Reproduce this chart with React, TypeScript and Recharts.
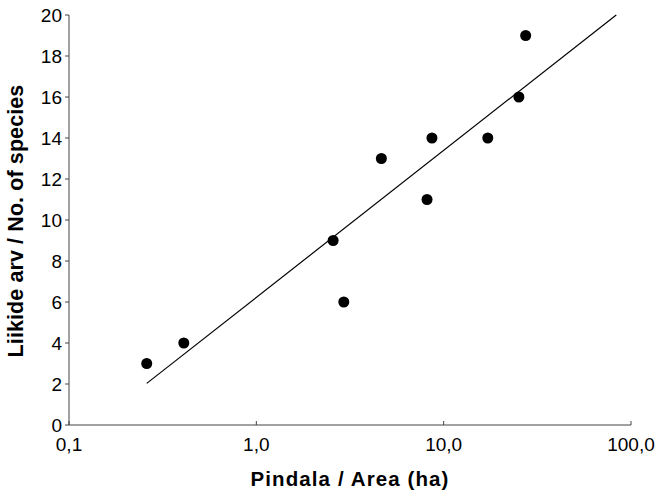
import { ComposedChart, Scatter, XAxis, YAxis, Label } from 'recharts'

// area (ha) vs number of species
const areaHa = [0.26, 0.41, 2.57, 2.93, 4.65, 8.15, 8.66, 17.2, 25.2, 27.4]
const speciesCount = [3, 4, 9, 6, 13, 11, 14, 14, 16, 19]

// fitted regression line endpoints
const fitArea = [0.26, 83.4]
const fitSpecies = [2.03, 20]

const xTicks = [0.1, 1, 10, 100]
const yTicks = [0, 2, 4, 6, 8, 10, 12, 14, 16, 18, 20]

const points = areaHa.map((x, i) => ({ x, y: speciesCount[i] }))
const fitLine = fitArea.map((x, i) => ({ x, y: fitSpecies[i] }))

const font = 'Arial, "Liberation Sans", sans-serif'
const axisColor = '#444'
const titleStyle = { fill: '#000', fontSize: 20.5, fontWeight: 'bold', fontFamily: font, letterSpacing: 1.1 }

const fmtX = (v: number) => v.toFixed(1).replace('.', ',')

const YTitle = (props: any) => {
    const vb = props.viewBox
    const cx = vb.x + vb.width - 46
    const cy = vb.y + vb.height / 2 + 1
    return (
        <text x={cx} y={cy} transform={`rotate(-90, ${cx}, ${cy})`} textAnchor="middle" style={{ ...titleStyle, fontSize: 21.5, letterSpacing: 0.1 }}>
            Liikide arv / No. of species
        </text>
    )
}

export default function App() {
    return (
        <div style={{ position: 'absolute', left: 0, top: 0, background: '#fff' }}>
            <ComposedChart width={657} height={493} margin={{ top: 15, right: 26, left: 29, bottom: 8 }}>
                <XAxis
                    type="number"
                    dataKey="x"
                    scale="log"
                    domain={[0.1, 100]}
                    ticks={xTicks}
                    tickFormatter={fmtX}
                    allowDataOverflow
                    height={60}
                    stroke={axisColor}
                    tickSize={-4}
                    tickMargin={17}
                    tick={{ fill: '#000', fontSize: 19, fontFamily: font }}
                >
                    <Label value="Pindala / Area (ha)" position="insideBottom" offset={-1} style={titleStyle} />
                </XAxis>
                <YAxis
                    type="number"
                    dataKey="y"
                    domain={[0, 20]}
                    ticks={yTicks}
                    width={40}
                    stroke={axisColor}
                    tickSize={4}
                    tickMargin={3}
                    tick={{ fill: '#000', fontSize: 19, fontFamily: font }}
                >
                    <Label content={<YTitle />} />
                </YAxis>
                <Scatter
                    data={fitLine}
                    line={{ stroke: '#000', strokeWidth: 1.2 }}
                    shape={() => <g />}
                    isAnimationActive={false}
                />
                <Scatter
                    data={points}
                    fill="#000"
                    shape={(p: any) => <circle cx={p.cx} cy={p.cy} r={5.5} fill="#000" />}
                    isAnimationActive={false}
                />
            </ComposedChart>
        </div>
    )
}
